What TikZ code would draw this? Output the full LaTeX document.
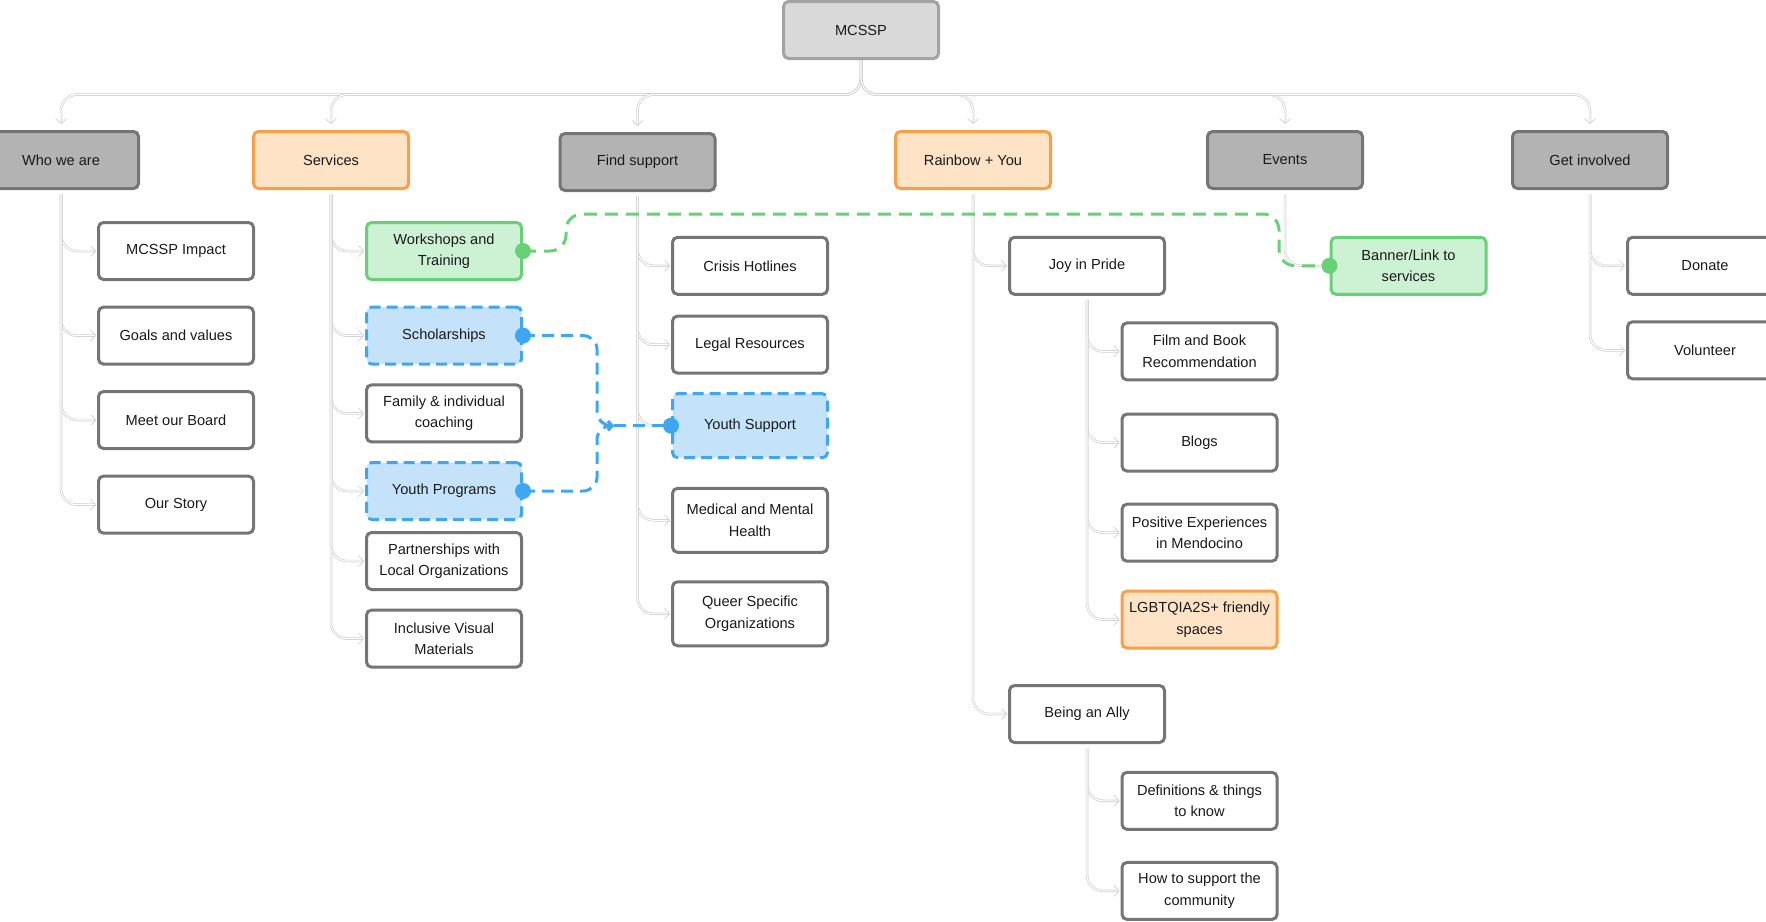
\documentclass[tikz,border=0pt]{standalone}
\usepackage{fontspec}
\setmainfont{Liberation Sans}
\usetikzlibrary{arrows.meta,calc}
\definecolor{txt}{HTML}{1A1A1A}
\definecolor{bord}{HTML}{757575}
\definecolor{catfill}{HTML}{B3B3B3}
\definecolor{topfill}{HTML}{D9D9D9}
\definecolor{topbord}{HTML}{A3A3A3}
\definecolor{orfill}{HTML}{FFE3C6}
\definecolor{orbord}{HTML}{F8A047}
\definecolor{grfill}{HTML}{CDF2D3}
\definecolor{grbord}{HTML}{66D176}
\definecolor{blfill}{HTML}{C4E3FB}
\definecolor{blbord}{HTML}{3FA6F2}
\definecolor{treec}{HTML}{CFCFCF}
\pgfdeclarelayer{background}
\pgfsetlayers{background,main}
\tikzset{
  box/.style={draw=bord, line width=3pt, rounded corners=5pt, minimum width=155pt,
    minimum height=57pt, align=center, text=txt, inner sep=2pt,
    font=\fontsize{14.6}{21.5}\selectfont},
  topbox/.style={box, fill=topfill, draw=topbord},
  catbox/.style={box, fill=catfill},
  leafbox/.style={box, fill=white},
  tallbox/.style={leafbox, minimum height=64pt},
  orbox/.style={box, fill=orfill, draw=orbord},
  grbox/.style={box, fill=grfill, draw=grbord},
  blbox/.style={box, fill=blfill, draw=blbord, dash pattern=on 11pt off 6pt},
  tree/.style={draw=treec, line width=0.7pt, double=white, double distance=1.1pt,
    rounded corners=16pt, -{Straight Barb[length=5pt,width=11pt]}, shorten >=1pt},
  bldash/.style={draw=blbord, line width=3pt, dash pattern=on 12pt off 7pt, rounded corners=14pt},
  grdash/.style={draw=grbord, line width=3pt, dash pattern=on 13pt off 8pt, rounded corners=16pt},
}
\begin{document}
\begin{tikzpicture}[x=1pt,y=-1pt]
\useasboundingbox (0,0) rectangle (1766,921);
% top
\node[topbox] (mcssp) at (861,30) {MCSSP};
% categories
\node[catbox] (who) at (61,160) {Who we are};
\node[orbox] (serv) at (331,160) {Services};
\node[catbox] (find) at (637.5,162) {Find support};
\node[orbox] (rain) at (973,160) {Rainbow + You};
\node[catbox] (events) at (1285,160) {Events};
\node[catbox] (get) at (1590,160) {Get involved};
% who we are
\node[leafbox] (impact) at (176,251) {MCSSP Impact};
\node[leafbox] (goals) at (176,335.6) {Goals and values};
\node[leafbox] (board) at (176,420) {Meet our Board};
\node[leafbox] (story) at (176,504.6) {Our Story};
% services
\node[grbox] (ws) at (444,251) {Workshops and\\Training};
\node[blbox] (sch) at (444,335.6) {Scholarships};
\node[leafbox] (fam) at (444,413.4) {Family \& individual\\coaching};
\node[blbox] (yp) at (444,491) {Youth Programs};
\node[leafbox] (part) at (444,561) {Partnerships with\\Local Organizations};
\node[leafbox] (incl) at (444,638.6) {Inclusive Visual\\Materials};
% find support
\node[leafbox] (crisis) at (750,265.8) {Crisis Hotlines};
\node[leafbox] (legal) at (750,344.6) {Legal Resources};
\node[blbox, minimum height=64pt] (ys) at (750,425.7) {Youth Support};
\node[tallbox] (med) at (750,520.3) {Medical and Mental\\Health};
\node[tallbox] (queer) at (750,613.8) {Queer Specific\\Organizations};
% rainbow + you
\node[leafbox] (joy) at (1087,265.8) {Joy in Pride};
\node[leafbox] (ally) at (1087,714) {Being an Ally};
\node[leafbox] (film) at (1199.5,351.4) {Film and Book\\Recommendation};
\node[leafbox] (blogs) at (1199.5,442.6) {Blogs};
\node[leafbox] (pos) at (1199.5,532.7) {Positive Experiences\\in Mendocino};
\node[orbox] (lgbt) at (1199.5,619.5) {LGBTQIA2S+ friendly\\spaces};
\node[leafbox] (defs) at (1199.5,800.8) {Definitions \& things\\to know};
\node[leafbox] (how) at (1199.5,890.9) {How to support the\\community};
% events
\node[grbox] (banner) at (1408.5,265.8) {Banner/Link to\\services};
% get involved
\node[leafbox] (donate) at (1705,265.8) {Donate};
\node[leafbox] (vol) at (1705,350.3) {Volunteer};

\begin{pgfonlayer}{background}
\coordinate (bus) at (0,94.6);
\foreach \c in {who,serv,find,rain,events,get}
  \draw[tree, shorten >=6pt] (mcssp.south) -- (mcssp.south |- bus) -| (\c.north);
\foreach \p/\c in {who/impact,who/goals,who/board,who/story,
  serv/ws,serv/sch,serv/fam,serv/yp,serv/part,serv/incl,
  find/crisis,find/legal,find/ys,find/med,find/queer,
  rain/joy,rain/ally,joy/film,joy/blogs,joy/pos,joy/lgbt,
  ally/defs,ally/how,events/banner,get/donate,get/vol}
  \draw[tree, shorten <=4pt] (\p.south) |- (\c.west);
\end{pgfonlayer}

% blue dashed links
\coordinate (bj) at (597,425.7);
\coordinate (ba) at (614,425.7);
\draw[bldash, -{Straight Barb[length=4pt,width=9pt]}] (sch.east) -| (bj) -- (ba);
\draw[bldash, -{Straight Barb[length=4pt,width=9pt]}] (yp.east) -| (bj) -- (ba);
\draw[bldash] (ba) -- (ys.west);
\fill[blbord] (sch.east) circle[radius=8pt];
\fill[blbord] (yp.east) circle[radius=8pt];
\fill[blbord] (ys.west) circle[radius=8pt];
% green dashed link
\coordinate (g1) at (566,214);
\coordinate (g2) at (1279,214);
\draw[grdash] (ws.east) -| (g1) -- (g2) |- (banner.west);
\fill[grbord] (ws.east) circle[radius=8pt];
\fill[grbord] (banner.west) circle[radius=8pt];
\end{tikzpicture}
\end{document}
